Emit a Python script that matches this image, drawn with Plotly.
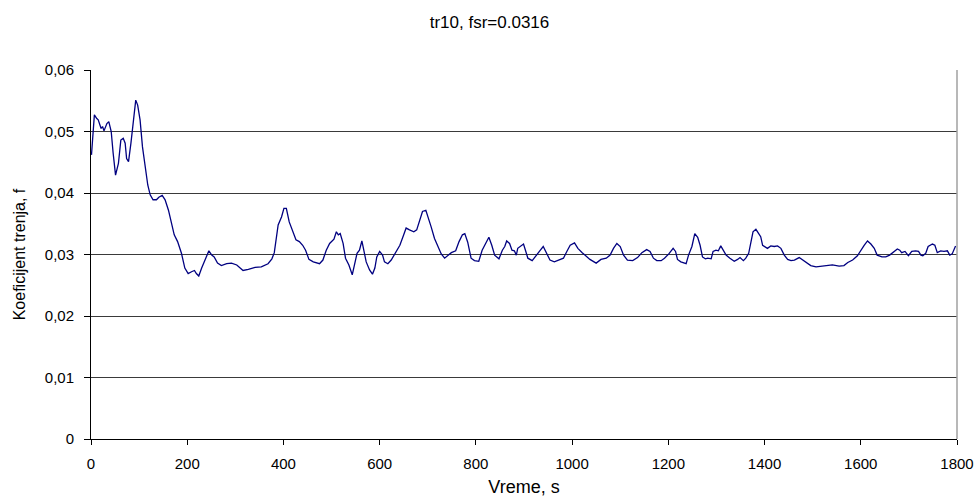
import plotly.graph_objects as go

title_text = "tr10, fsr=0.0316"
x_title = "Vreme, s"
y_title = "Koeficijent trenja, f"

x_tick_vals = [0, 200, 400, 600, 800, 1000, 1200, 1400, 1600, 1800]
x_tick_text = ["0", "200", "400", "600", "800", "1000", "1200", "1400", "1600", "1800"]
y_tick_vals = [0, 0.01, 0.02, 0.03, 0.04, 0.05, 0.06]
y_tick_text = ["0", "0,01", "0,02", "0,03", "0,04", "0,05", "0,06"]

time_s = [
    1, 7, 12, 15, 21, 24, 27, 33, 37, 42, 46, 51, 57, 62, 67, 71, 74, 78, 83, 88,
    93, 97, 102, 107, 112, 118, 123, 129, 136, 141, 148, 154, 161, 168, 173, 180, 188, 195, 202, 209,
    215, 219, 224, 230, 235, 240, 245, 251, 256, 263, 271, 282, 292, 303, 316, 327, 341, 354, 368, 376,
    381, 389, 396, 401, 406, 412, 419, 426, 433, 440, 446, 453, 462, 475, 482, 489, 496, 505, 510, 514,
    518, 524, 529, 536, 543, 548, 553, 558, 563, 567, 572, 579, 585, 590, 594, 600, 606, 610, 617, 624,
    633, 642, 650, 655, 662, 671, 677, 683, 689, 696, 701, 707, 714, 721, 728, 735, 742, 749, 758, 765,
    772, 777, 783, 790, 797, 806, 813, 820, 827, 833, 839, 848, 855, 860, 864, 870, 875, 880, 884, 887,
    894, 899, 903, 908, 917, 925, 934, 940, 947, 954, 963, 972, 982, 989, 996, 1005, 1012, 1021, 1029, 1037,
    1050, 1060, 1071, 1079, 1086, 1093, 1100, 1107, 1115, 1126, 1136, 1145, 1155, 1162, 1169, 1176, 1185, 1192, 1201, 1206,
    1210, 1215, 1219, 1226, 1233, 1237, 1242, 1249, 1255, 1261, 1266, 1271, 1277, 1282, 1289, 1293, 1299, 1304, 1309, 1314,
    1320, 1328, 1337, 1344, 1349, 1356, 1361, 1367, 1372, 1376, 1382, 1387, 1392, 1396, 1401, 1406, 1413, 1420, 1427, 1434,
    1441, 1448, 1455, 1462, 1472, 1479, 1487, 1496, 1507, 1517, 1527, 1541, 1555, 1565, 1573, 1583, 1593, 1600, 1607, 1614,
    1621, 1628, 1634, 1644, 1652, 1660, 1669, 1676, 1681, 1685, 1692, 1699, 1706, 1714, 1720, 1725, 1729, 1735, 1740, 1749,
    1754, 1759, 1766, 1773, 1780, 1785, 1790, 1794, 1797,
]

friction = [
    0.0462, 0.0527, 0.0521, 0.0519, 0.0505, 0.0508, 0.0501, 0.0513, 0.0516, 0.0500, 0.0465, 0.0429, 0.0448, 0.0486, 0.0489, 0.0481, 0.0456, 0.0451, 0.0481, 0.0521,
    0.0551, 0.0543, 0.0519, 0.0475, 0.0443, 0.0413, 0.0397, 0.0389, 0.0389, 0.0393, 0.0396, 0.0389, 0.0372, 0.0351, 0.0332, 0.0321, 0.0302, 0.0278, 0.0269, 0.0272,
    0.0274, 0.0269, 0.0265, 0.0278, 0.0288, 0.0299, 0.0306, 0.0299, 0.0296, 0.0286, 0.0282, 0.0285, 0.0286, 0.0283, 0.0274, 0.0276, 0.0279, 0.0280, 0.0285, 0.0293,
    0.0303, 0.0348, 0.0361, 0.0375, 0.0375, 0.0353, 0.0340, 0.0324, 0.0321, 0.0315, 0.0307, 0.0292, 0.0288, 0.0285, 0.0291, 0.0307, 0.0318, 0.0325, 0.0337, 0.0332,
    0.0334, 0.0318, 0.0294, 0.0283, 0.0267, 0.0283, 0.0302, 0.0307, 0.0322, 0.0307, 0.0288, 0.0275, 0.0268, 0.0278, 0.0296, 0.0305, 0.0299, 0.0288, 0.0285, 0.0291,
    0.0303, 0.0315, 0.0332, 0.0343, 0.0340, 0.0337, 0.0340, 0.0356, 0.0370, 0.0372, 0.0361, 0.0345, 0.0326, 0.0313, 0.0301, 0.0294, 0.0298, 0.0303, 0.0306, 0.0321,
    0.0332, 0.0334, 0.0320, 0.0294, 0.0290, 0.0289, 0.0307, 0.0318, 0.0328, 0.0315, 0.0299, 0.0293, 0.0307, 0.0313, 0.0322, 0.0318, 0.0307, 0.0306, 0.0299, 0.0310,
    0.0314, 0.0317, 0.0307, 0.0294, 0.0290, 0.0299, 0.0307, 0.0313, 0.0303, 0.0291, 0.0288, 0.0291, 0.0294, 0.0305, 0.0315, 0.0319, 0.0310, 0.0303, 0.0298, 0.0292,
    0.0286, 0.0292, 0.0294, 0.0299, 0.0310, 0.0318, 0.0313, 0.0299, 0.0291, 0.0290, 0.0295, 0.0303, 0.0308, 0.0305, 0.0294, 0.0290, 0.0290, 0.0294, 0.0301, 0.0307,
    0.0310, 0.0305, 0.0292, 0.0288, 0.0286, 0.0285, 0.0299, 0.0313, 0.0334, 0.0328, 0.0315, 0.0296, 0.0293, 0.0294, 0.0293, 0.0305, 0.0307, 0.0306, 0.0314, 0.0307,
    0.0299, 0.0294, 0.0289, 0.0292, 0.0295, 0.0290, 0.0294, 0.0302, 0.0324, 0.0337, 0.0341, 0.0334, 0.0329, 0.0315, 0.0313, 0.0310, 0.0314, 0.0313, 0.0314, 0.0310,
    0.0299, 0.0292, 0.0290, 0.0291, 0.0295, 0.0291, 0.0286, 0.0282, 0.0280, 0.0281, 0.0282, 0.0283, 0.0281, 0.0282, 0.0287, 0.0291, 0.0298, 0.0307, 0.0315, 0.0322,
    0.0317, 0.0310, 0.0299, 0.0296, 0.0296, 0.0299, 0.0305, 0.0309, 0.0307, 0.0303, 0.0305, 0.0298, 0.0305, 0.0306, 0.0305, 0.0299, 0.0298, 0.0302, 0.0313, 0.0317,
    0.0315, 0.0303, 0.0306, 0.0305, 0.0306, 0.0299, 0.0301, 0.0310, 0.0314,
]

FONT = "Liberation Sans, Arial, sans-serif"

fig = go.Figure()
fig.add_trace(go.Scatter(
    x=time_s, y=friction, mode="lines",
    line=dict(color="#000080", width=1.3),
    showlegend=False, hoverinfo="skip",
))

fig.update_layout(
    width=979, height=497,
    margin=dict(l=91, r=22, t=70, b=58, autoexpand=False),
    paper_bgcolor="white", plot_bgcolor="white",
    font=dict(family=FONT, color="black", size=15),
    hovermode=False,
    title=dict(text=title_text, x=0.5, xref="container", xanchor="center",
               y=0.9565, yref="container", yanchor="middle", automargin=False,
               font=dict(family=FONT, size=17, color="black")),
    xaxis=dict(
        range=[0, 1800], tickvals=x_tick_vals, ticktext=x_tick_text,
        showgrid=False, zeroline=False, automargin=False,
        showline=True, linecolor="black", linewidth=1,
        ticks="outside", ticklen=5, tickcolor="black", tickwidth=1,
        tickfont=dict(family=FONT, size=15, color="black"),
        ticklabelstandoff=6,
        title=dict(text=x_title, font=dict(family=FONT, size=18, color="black"), standoff=13),
    ),
    yaxis=dict(
        range=[0, 0.06], tickvals=y_tick_vals, ticktext=y_tick_text,
        showgrid=True, gridcolor="#3a3a3a", gridwidth=1,
        zeroline=False, automargin=False,
        showline=True, linecolor="black", linewidth=1,
        ticks="outside", ticklen=6, tickcolor="black", tickwidth=1,
        tickfont=dict(family=FONT, size=15, color="black"),
        ticklabelstandoff=7,
        title=dict(text=y_title, font=dict(family=FONT, size=16, color="black"), standoff=15),
    ),
    shapes=[
        dict(type="line", xref="paper", yref="paper", x0=1, x1=1, y0=0, y1=1,
             line=dict(color="#a0a0a0", width=1.5)),
    ],
)

# Remove the page's default body margin so the figure fills the window exactly.
fig.write_html(
    "out.html",
    config={"displayModeBar": False, "staticPlot": True},
    post_script="document.body.style.margin='0';document.body.style.overflow='hidden';",
)
